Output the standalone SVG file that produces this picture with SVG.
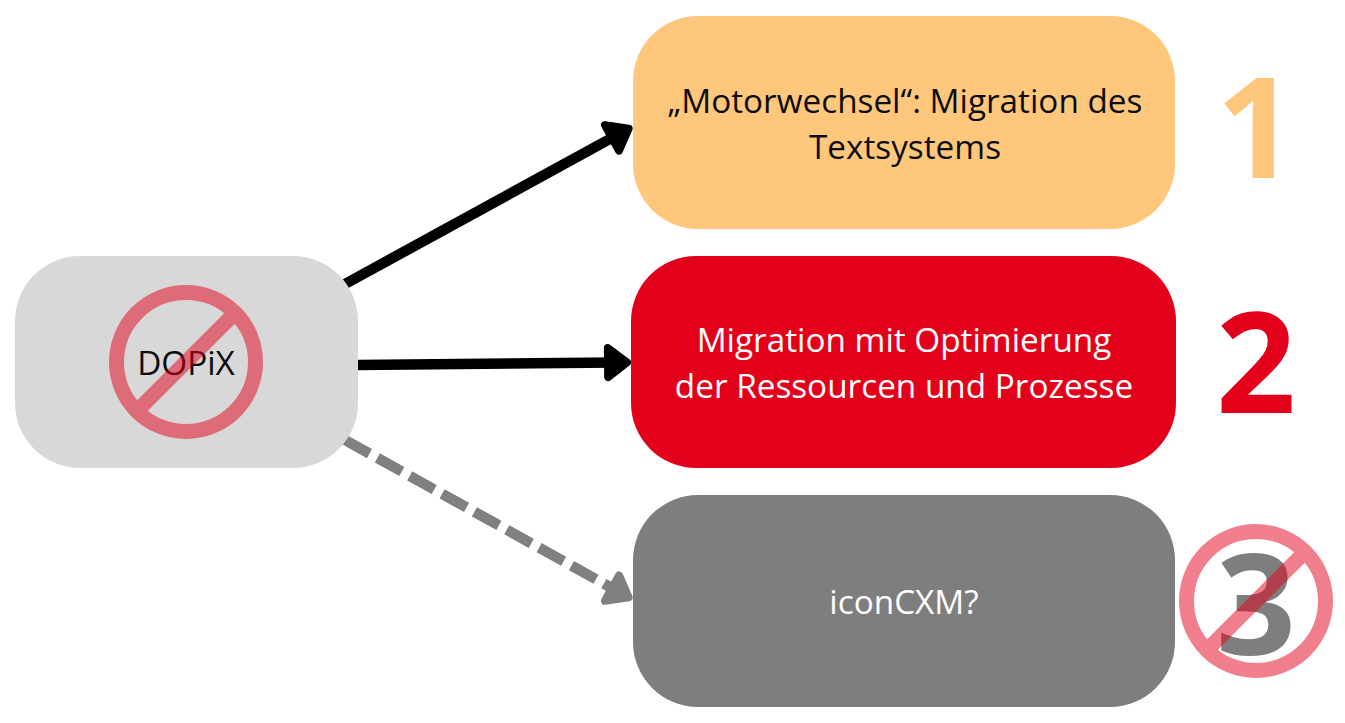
<svg xmlns="http://www.w3.org/2000/svg" width="1345" height="723" viewBox="0 0 1345 723">
<style>
text{font-family:"Open Sans","Noto Sans",sans-serif;text-anchor:middle}
.l{font-size:33.300px}
.d{fill:#0d0d0d}
.w{fill:#fff}
.n{font-size:140px;font-weight:700}
.ban{opacity:.5}
.ban circle,.ban line{fill:none;stroke:#e3001b;stroke-width:15}
.k{fill:none;stroke:#000;stroke-width:10.500}
.g{fill:none;stroke:#808080;stroke-width:10.500;stroke-dasharray:28 9}
</style>
<defs>
<marker id="ak" markerUnits="userSpaceOnUse" markerWidth="48" markerHeight="48" refX="26" refY="24" orient="auto" overflow="visible">
<path d="M18 9.500 L37 24 L18 38.500 Z" fill="#000" stroke="#000" stroke-width="8" stroke-linejoin="round"/>
</marker>
<marker id="ag" markerUnits="userSpaceOnUse" markerWidth="48" markerHeight="48" refX="26" refY="24" orient="auto" overflow="visible">
<path d="M18 9.500 L37 24 L18 38.500 Z" fill="#808080" stroke="#808080" stroke-width="8" stroke-linejoin="round"/>
</marker>
</defs>
<g id="connectors">
<line class="k" x1="345" y1="284" x2="619" y2="134" marker-end="url(#ak)"/>
<line class="k" x1="358" y1="365" x2="616" y2="362.500" marker-end="url(#ak)"/>
<line class="g" x1="345" y1="440" x2="619" y2="592" marker-end="url(#ag)"/>
</g>
<g id="node-dopix">
<rect x="15" y="256" width="343" height="212" rx="65" fill="#d8d8d8"/>
<text class="l d" x="186" y="375">DOPiX</text>
<g class="ban"><circle cx="186" cy="362" r="69.500"/><line x1="139" y1="409" x2="233" y2="315"/></g>
</g>
<g id="node-1">
<rect x="633" y="16" width="542" height="213" rx="65" fill="#ffc77c"/>
<text class="l d" x="905" y="113">„Motorwechsel“: Migration des</text>
<text class="l d" x="905" y="159">Textsystems</text>
<text class="n" x="1256" y="178" fill="#ffc77c">1</text>
</g>
<g id="node-2">
<rect x="631" y="256" width="545" height="212" rx="65" fill="#e3001b"/>
<text class="l w" x="904" y="352">Migration mit Optimierung</text>
<text class="l w" x="904" y="398">der Ressourcen und Prozesse</text>
<text class="n" x="1256" y="413" fill="#e3001b">2</text>
</g>
<g id="node-3">
<rect x="633" y="495" width="542" height="212" rx="65" fill="#7e7e7e"/>
<text class="l w" x="904" y="614">iconCXM?</text>
<text class="n" x="1256" y="655" fill="#7e7e7e">3</text>
<g class="ban"><circle cx="1256" cy="601" r="69.500"/><line x1="1209" y1="648" x2="1303" y2="554"/></g>
</g>
</svg>
